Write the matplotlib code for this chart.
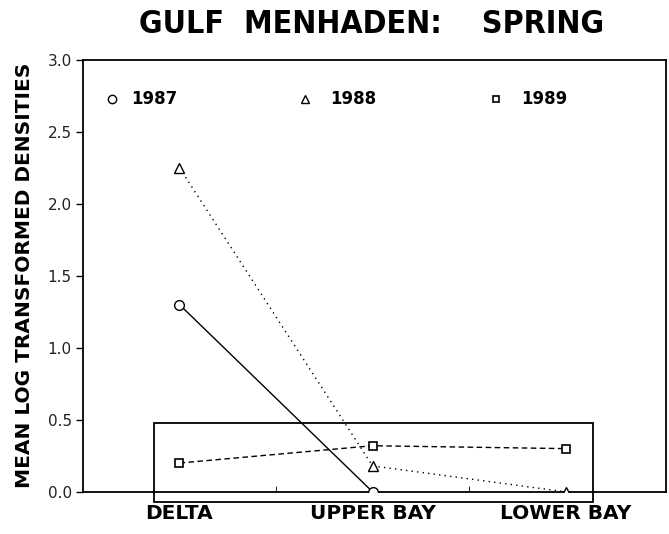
import matplotlib
matplotlib.use("Agg")
import matplotlib.pyplot as plt
from matplotlib.patches import Rectangle

categories = ["DELTA", "UPPER BAY", "LOWER BAY"]
x_1987 = [1, 2]
y_1987 = [1.30, 0.0]
x_1988 = [1, 2, 3]
y_1988 = [2.25, 0.18, 0.0]
x_1989 = [1, 2, 3]
y_1989 = [0.20, 0.32, 0.30]
yticks = [0.0, 0.5, 1.0, 1.5, 2.0, 2.5, 3.0]
ytick_labels = ["0.0", "0.5", "1.0", "1.5", "2.0", "2.5", "3.0"]

fig = plt.figure(figsize=(6.69, 5.34), dpi=100)
ax = fig.add_axes([0.124, 0.079, 0.8715, 0.809])

ax.plot(x_1987, y_1987, color="black", lw=1.0, ls="-", marker="o",
        ms=7, mfc="white", mec="black", mew=1.0, zorder=3)
ax.plot(x_1988, y_1988, color="black", lw=1.0, ls=(0, (1, 3)), marker="^",
        ms=7, mfc="white", mec="black", mew=1.0, zorder=3)
ax.plot(x_1989, y_1989, color="black", lw=1.0, ls=(0, (4, 2.5)), marker="s",
        ms=6, mfc="white", mec="black", mew=1.2, zorder=3)

rect = Rectangle((0.87, -0.07), 3.14 - 0.87, 0.48 + 0.07, fill=False,
                 ec="black", lw=1.3, clip_on=False, zorder=2)
ax.add_patch(rect)

ax.set_xlim(0.5, 3.52)
ax.set_ylim(0.0, 3.0)
ax.set_yticks(yticks)
ax.set_yticklabels(ytick_labels, fontsize=11, color="#222222")
ax.set_xticks([1, 2, 3])
ax.set_xticklabels(categories, fontsize=14.5, fontweight="bold")
ax.tick_params(axis="x", length=0, pad=9)
ax.tick_params(axis="y", length=5, width=1.0, direction="out", pad=3)
ax.set_xticks([1.5, 2.5], minor=True)
ax.tick_params(axis="x", which="minor", length=4, direction="in")
for s in ax.spines.values():
    s.set_linewidth(1.3)

ax.set_ylabel("MEAN LOG TRANSFORMED DENSITIES", fontsize=14.5,
              fontweight="bold", labelpad=10)

# legend-like labels
leg_y = 2.73
ax.plot([1 - 0.35], [leg_y], marker="o", ms=6, mfc="white", mec="black", mew=1.0, ls="none")
ax.text(1 - 0.25, leg_y, "1987", fontsize=12, fontweight="bold", va="center", ha="left")
ax.plot([1.65], [leg_y], marker="^", ms=6, mfc="white", mec="black", mew=1.0, ls="none")
ax.text(1.78, leg_y, "1988", fontsize=12, fontweight="bold", va="center", ha="left")
ax.plot([2.64], [leg_y], marker="s", ms=5, mfc="white", mec="black", mew=1.2, ls="none")
ax.text(2.77, leg_y, "1989", fontsize=12, fontweight="bold", va="center", ha="left")

fig.text(0.555, 0.955, "GULF  MENHADEN:    SPRING", fontsize=23, fontweight="bold",
         ha="center", va="center", family="DejaVu Sans", fontstretch="condensed")

fig.savefig("out.png", dpi=100)
